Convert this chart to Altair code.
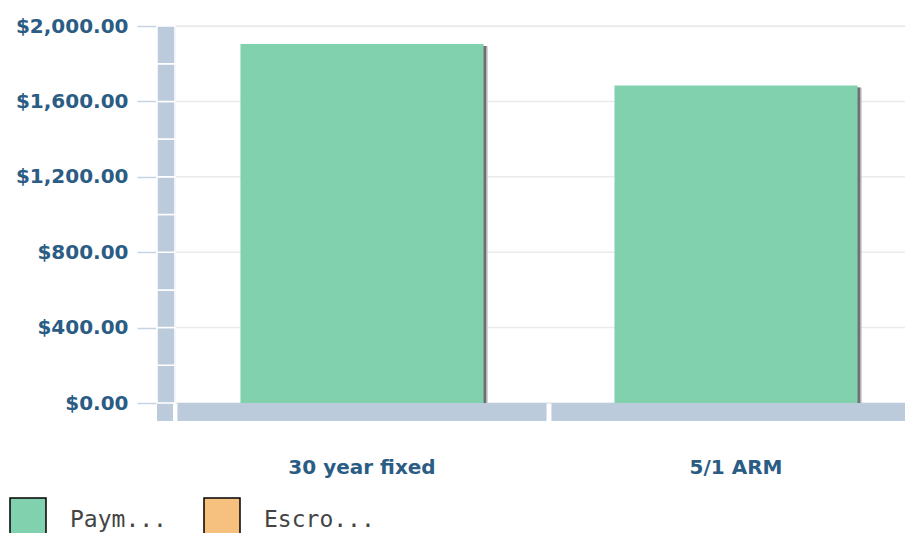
import altair as alt
import pandas as pd

# ---- data ----
categories = ["30 year fixed", "5/1 ARM"]
series = ["Payment", "Escrow"]
payment = [1905, 1685]
escrow = [0, 0]
series_colors = ["#82d1ae", "#f6c07e"]
y_ticks = [0, 400, 800, 1200, 1600, 2000]
band_breaks = [0, 200, 400, 600, 800, 1000, 1200, 1400, 1600, 1800, 2000]

W, H = 748, 377
LABEL_BLUE = "#2b5c84"
BAND = "#bccbdb"

rows = []
for c, p, e in zip(categories, payment, escrow):
    rows.append({"category": c, "series": series[0], "value": p, "ord": 0})
    rows.append({"category": c, "series": series[1], "value": e, "ord": 1})
bars_df = pd.DataFrame(rows)
pay_df = pd.DataFrame({"category": categories, "value": payment})
grid_df = pd.DataFrame({"v": y_ticks})
seg_df = pd.DataFrame({"lo": band_breaks[:-1], "hi": band_breaks[1:]})
cat_df = pd.DataFrame({"category": categories})

xscale = alt.Scale(domain=categories, paddingInner=0, paddingOuter=0)
yscale = alt.Scale(domain=[0, 2000], nice=False, zero=True)

x_axis = alt.Axis(domain=False, ticks=False, labelPadding=54, labelAngle=0, grid=False,
                  labelFont="DejaVu Sans", labelFontSize=20, labelFontWeight="bold",
                  labelColor=LABEL_BLUE, title=None)
y_axis = alt.Axis(format="$,.2f", values=y_ticks, grid=False, domain=False,
                  tickSize=20, tickColor="#c6d3e0", tickWidth=1.5, offset=18,
                  labelPadding=9, labelFont="DejaVu Sans", labelFontSize=20,
                  labelFontWeight="bold", labelColor=LABEL_BLUE, title=None)

grid = alt.Chart(grid_df).mark_rule(color="#ebebeb", strokeWidth=1.5).encode(
    y=alt.Y("v:Q", scale=yscale, axis=y_axis, title=None),
    x=alt.value(0), x2=alt.value(W),
)

left_band = alt.Chart(seg_df).mark_rect(color=BAND, stroke="white", strokeWidth=1.5).encode(
    y=alt.Y("lo:Q", scale=yscale, axis=y_axis, title=None),
    y2="hi:Q",
    x=alt.value(-18), x2=alt.value(0),
)

corner = alt.Chart(alt.Data(values=[{}])).mark_rect(color=BAND).encode(
    x=alt.value(-18), x2=alt.value(-2),
    y=alt.value(H + 0.8), y2=alt.value(H + 18),
)

shadow_outer = alt.Chart(pay_df).mark_bar(
    width=alt.RelativeBandSize(0.65), xOffset=4, yOffset=2, color="#b5b5b5"
).encode(
    x=alt.X("category:N", scale=xscale, sort=categories, axis=x_axis, title=None),
    y=alt.Y("value:Q", scale=yscale, axis=y_axis, title=None),
)
shadow_inner = alt.Chart(pay_df).mark_bar(
    width=alt.RelativeBandSize(0.65), xOffset=2.5, yOffset=2, color="#6f6f6f"
).encode(
    x=alt.X("category:N", scale=xscale, sort=categories, axis=x_axis, title=None),
    y=alt.Y("value:Q", scale=yscale, axis=y_axis, title=None),
)

bars = alt.Chart(bars_df).mark_bar(width=alt.RelativeBandSize(0.65)).encode(
    x=alt.X("category:N", scale=xscale, sort=categories, axis=x_axis, title=None),
    y=alt.Y("value:Q", scale=yscale, stack="zero", axis=y_axis, title=None),
    color=alt.Color("series:N", scale=alt.Scale(domain=series, range=series_colors),
                    legend=alt.Legend(orient="none", legendX=-166, legendY=475,
                                      direction="horizontal", title=None,
                                      symbolType="M-1,-1.222H1V1.222H-1Z", symbolSize=1296,
                                      symbolStrokeColor="black", symbolStrokeWidth=1.5,
                                      symbolOpacity=1, labelOffset=23, columnPadding=34,
                                      labelFont="DejaVu Sans Mono", labelFontSize=23,
                                      labelColor="#444444", labelLimit=300, padding=0,
                                      labelExpr="datum.label == 'Payment' ? 'Paym...' : 'Escro...'")),
    order=alt.Order("ord:Q"),
)

bottom_band = alt.Chart(cat_df).mark_bar(
    width=alt.RelativeBandSize(0.987), color=BAND
).encode(
    x=alt.X("category:N", scale=xscale, sort=categories, axis=x_axis, title=None),
    y=alt.value(H), y2=alt.value(H + 18),
)

chart = alt.layer(grid, left_band, corner, shadow_outer, shadow_inner, bars, bottom_band).properties(
    width=W, height=H,
    autosize=alt.AutoSizeParams(type="none"),
    padding={"left": 167, "top": 18, "right": -18, "bottom": 130},
).configure_view(stroke=None).configure(background="white")

chart.save("out.html", embed_options={"renderer": "svg", "actions": False})
